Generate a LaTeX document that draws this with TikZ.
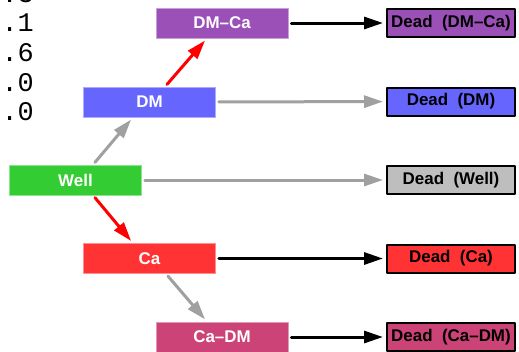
\documentclass[tikz,border=0pt]{standalone}
\usepackage{fontspec}
\setmainfont{Liberation Sans}
\setmonofont{Liberation Mono}
\usetikzlibrary{arrows.meta}
\definecolor{dmcacol}{HTML}{9B50B8}
\definecolor{dmcol}{HTML}{6666FF}
\definecolor{wellcol}{HTML}{33CC33}
\definecolor{cacol}{HTML}{FF3333}
\definecolor{cadmcol}{HTML}{CC4477}
\definecolor{deadgrey}{HTML}{BEBEBE}
\definecolor{arrgrey}{HTML}{A0A0A0}
\tikzset{
  statenode/.style={rectangle,fill=#1,draw=#1!55!white,line width=0.6bp,
    minimum width=132bp,minimum height=30bp,inner sep=0pt,text=white,
    font=\fontsize{17}{20}\selectfont\bfseries},
  deadnode/.style={rectangle,fill=#1,draw=black,line width=2bp,
    minimum width=128bp,minimum height=28bp,inner sep=0pt,text=black,
    font=\fontsize{17}{20}\selectfont\bfseries},
  trans/.style={line width=3bp,draw=#1,-{Triangle[length=19bp,width=12bp]},
    shorten <=3bp,shorten >=3bp},
  every picture/.style={line cap=round,line join=round}
}
\begin{document}
\begin{tikzpicture}[x=1bp,y=-1bp]
  \useasboundingbox (0,0) rectangle (519,351);
  \foreach \val [count=\i from 0] in {0.3,0.1,0.6,0.0,0.0}
    \node[anchor=base east,inner sep=0pt,font=\ttfamily\fontsize{27}{30}\selectfont]
      (num\i) at (34,{2+29.7*\i}) {\val};

  \node[statenode=dmcacol] (dmca) at (222,23) {DM--Ca};
  \node[statenode=dmcol] (dm) at (149.5,102) {DM};
  \node[statenode=wellcol] (well) at (75.5,180) {Well};
  \node[statenode=cacol] (ca) at (149.5,258.5) {Ca};
  \node[statenode=cadmcol] (cadm) at (222,337) {Ca--DM};

  \node[deadnode=dmcacol] (ddmca) at (451,23) {Dead\ \ (DM--Ca)};
  \node[deadnode=dmcol] (ddm) at (451,101.5) {Dead\ \ (DM)};
  \node[deadnode=deadgrey] (dwell) at (451,180) {Dead\ \ (Well)};
  \node[deadnode=cacol] (dca) at (451,258.5) {Dead\ \ (Ca)};
  \node[deadnode=cadmcol] (dcadm) at (451,337) {Dead\ \ (Ca--DM)};

  \draw[trans=arrgrey] ([xshift=17.5bp]well.north) -- ([xshift=-16.5bp]dm.south);
  \draw[trans=red] ([xshift=15.5bp]dm.north) -- ([xshift=-15bp]dmca.south);
  \draw[trans=red] ([xshift=17.5bp]well.south) -- ([xshift=-16.5bp]ca.north);
  \draw[trans=arrgrey] ([xshift=16.5bp]ca.south) -- ([xshift=-15bp]cadm.north);

  \draw[trans=black] (dmca) -- (ddmca);
  \draw[trans=arrgrey] (dm) -- (ddm);
  \draw[trans=arrgrey] (well) -- (dwell);
  \draw[trans=black] (ca) -- (dca);
  \draw[trans=black] (cadm) -- (dcadm);
\end{tikzpicture}
\end{document}
